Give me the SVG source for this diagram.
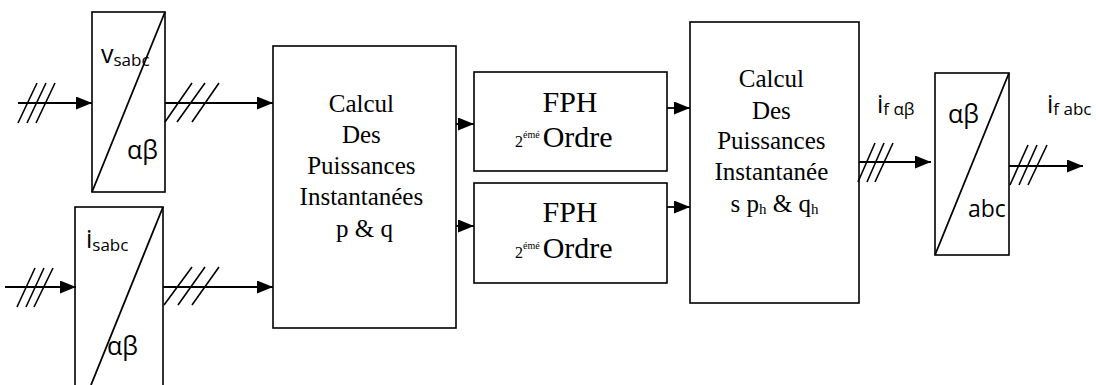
<svg xmlns="http://www.w3.org/2000/svg" width="1096" height="385" viewBox="0 0 1096 385">
<style>
.box{fill:#fff;stroke:#000;stroke-width:1.6}
.ln{fill:none;stroke:#000;stroke-width:1.8}
.hs{fill:none;stroke:#000;stroke-width:1.6}
text.s{font-family:'Open Sans','Liberation Sans',sans-serif}
text.t{font-family:serif}
</style>
<defs>
<marker id="ah" markerUnits="userSpaceOnUse" markerWidth="17" markerHeight="14" refX="16" refY="6.5" orient="auto">
<path d="M0,0 L16,6.5 L0,13 z" fill="#000"/>
</marker>
</defs>
<rect width="1096" height="385" fill="#fff"/>

<g id="vsabc">
<rect class="box" x="92" y="12" width="73" height="180"/>
<line class="ln" x1="92" y1="192" x2="165" y2="12"/>
<text class="s" x="101" y="63" font-size="25">v<tspan font-size="17" dy="3">sabc</tspan></text>
<text class="s" x="127" y="159" font-size="25">αβ</text>
</g>

<g id="isabc">
<rect class="box" x="75" y="207" width="88" height="200"/>
<line class="ln" x1="163" y1="207" x2="91" y2="385"/>
<text class="s" x="86" y="248" font-size="25">i<tspan font-size="17" dy="3">sabc</tspan></text>
<text class="s" x="107" y="355" font-size="25">αβ</text>
</g>

<g id="calcul1">
<rect class="box" x="273" y="46" width="183" height="282"/>
<text class="t" style="font-family:'Liberation Serif',serif" font-size="25" text-anchor="middle">
<tspan x="364.5" y="112">Calcul</tspan>
<tspan x="364.5" y="143">Des</tspan>
<tspan x="364.5" y="174">Puissances</tspan>
<tspan x="364.5" y="205">Instantanées</tspan>
<tspan x="364.5" y="237">p &amp; q</tspan>
</text>
</g>

<g id="fph1">
<rect class="box" x="474" y="72" width="193" height="99"/>
<text class="t" style="font-family:'Liberation Serif',serif" x="570" y="112" font-size="30" text-anchor="middle">FPH</text>
<text class="t" style="font-family:'Liberation Serif',serif" x="515" y="147" font-size="16">2<tspan font-size="10" dy="-9">émé</tspan><tspan font-size="30" dy="9" dx="3">Ordre</tspan></text>
</g>

<g id="fph2">
<rect class="box" x="474" y="183" width="193" height="100"/>
<text class="t" style="font-family:'Liberation Serif',serif" x="570" y="222" font-size="30" text-anchor="middle">FPH</text>
<text class="t" style="font-family:'Liberation Serif',serif" x="515" y="258" font-size="16">2<tspan font-size="10" dy="-9">émé</tspan><tspan font-size="30" dy="9" dx="3">Ordre</tspan></text>
</g>

<g id="calcul2">
<rect class="box" x="690" y="22" width="169" height="281"/>
<text class="t" style="font-family:'Liberation Serif',serif" font-size="25" text-anchor="middle">
<tspan x="774.5" y="87">Calcul</tspan>
<tspan x="774.5" y="119">Des</tspan>
<tspan x="774.5" y="149">Puissances</tspan>
<tspan x="774.5" y="180">Instantanée</tspan>
<tspan x="774.5" y="212">s p<tspan font-size="15" dy="2">h</tspan><tspan dy="-2"> &amp; q</tspan><tspan font-size="15" dy="2">h</tspan></tspan>
</text>
</g>

<g id="ab2abc">
<rect class="box" x="935" y="73" width="74" height="182"/>
<line class="ln" x1="935" y1="255" x2="1009" y2="73"/>
<text class="s" x="948" y="123" font-size="25">αβ</text>
<text class="s" x="968" y="217" font-size="23">abc</text>
</g>

<g id="labels">
<text class="s" x="877" y="113" font-size="25">i<tspan font-size="17" dy="2">f αβ</tspan></text>
<text class="s" x="1047" y="113" font-size="25">i<tspan font-size="17" dy="2">f abc</tspan></text>
</g>

<g id="connectors">
<line class="ln" x1="18" y1="103" x2="92" y2="103" marker-end="url(#ah)"/>
<line class="ln" x1="165" y1="103" x2="273" y2="103" marker-end="url(#ah)"/>
<line class="ln" x1="5" y1="287" x2="76" y2="287" marker-end="url(#ah)"/>
<line class="ln" x1="163" y1="287" x2="273" y2="287" marker-end="url(#ah)"/>
<line class="ln" x1="456" y1="124" x2="474" y2="124" marker-end="url(#ah)"/>
<line class="ln" x1="456" y1="226" x2="474" y2="226" marker-end="url(#ah)"/>
<line class="ln" x1="667" y1="108" x2="690" y2="108" marker-end="url(#ah)"/>
<line class="ln" x1="667" y1="207" x2="690" y2="207" marker-end="url(#ah)"/>
<line class="ln" x1="859" y1="162" x2="931" y2="162" marker-end="url(#ah)"/>
<line class="ln" x1="1009" y1="166" x2="1083" y2="166" marker-end="url(#ah)"/>
<g class="hs">
<path d="M18,123 L37,83 M27,123 L46,83 M36,123 L55,83"/>
<path d="M165,122 L192,83 M177,122 L205,83 M192,122 L219,83"/>
<path d="M17,307 L35,268 M26,307 L44,268 M34,307 L53,268"/>
<path d="M164,305 L192,267 M178,305 L205,267 M192,305 L219,267"/>
<path d="M858,182 L875,143 M867,182 L884,143 M875,182 L893,143"/>
<path d="M1010,185 L1028,145 M1019,185 L1037,145 M1028,185 L1047,145"/>
</g>
</g>
</svg>
